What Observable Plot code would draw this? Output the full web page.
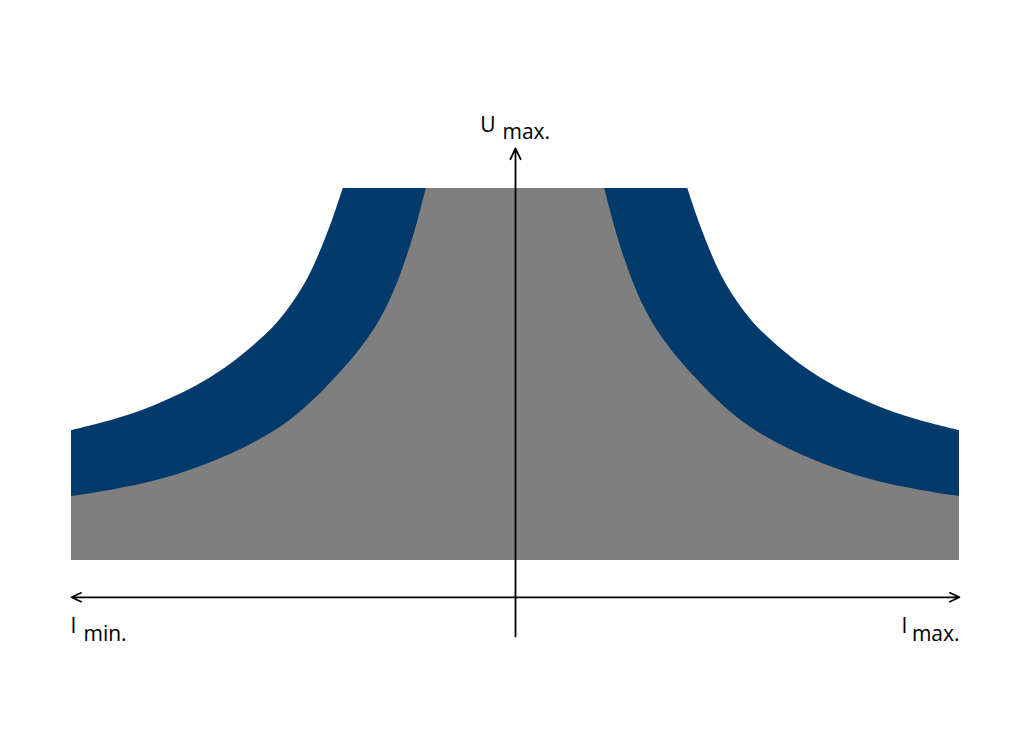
<!DOCTYPE html>
<html>
<head>
<meta charset="utf-8">
<script src="https://cdn.jsdelivr.net/npm/d3@7"></script>
<script src="https://cdn.jsdelivr.net/npm/@observablehq/plot@0.6"></script>
<style>
  html, body { margin: 0; padding: 0; background: #ffffff; }
  #chart svg { display: block; }
</style>
</head>
<body>
<div id="chart"></div>
<script>
// Current axis: -100 (I min.) … 100 (I max.); voltage axis: 0 … 100 (U max.)
// Left half, read from the corner at U max. outward; the right half is its mirror image.
const outerX = [-38.8, -40.9, -43.2, -46.2, -49.9, -53.8, -57.4, -60.4, -64.9, -72.5, -80.0, -87.5, -95.0, -100];
const outerU = [100, 92.3, 85.1, 76.6, 69.4, 63.4, 59.4, 56.2, 51.9, 46.2, 42.2, 38.7, 36.3, 34.9];
const innerX = [-20.1, -22.1, -24.4, -27.4, -31.2, -35.7, -39.4, -45.4, -51.4, -58.9, -68.7, -80.0, -91.2, -100];
const innerU = [100, 90.5, 81.5, 71.7, 62.7, 55.6, 50.5, 43.0, 36.7, 31.4, 26.0, 21.5, 18.8, 17.2];
const labelMain = ["U", "I", "I"];
const labelSub = ["max.", "min.", "max."];

const blue = "#023a6b";
const gray = "#7f7f7f";

// full symmetric outline, ordered by increasing current
const outline = (xs, us) => [
  ...xs.map((x, i) => ({x, u: us[i]})).reverse(),
  ...xs.map((x, i) => ({x: -x, u: us[i]}))
];
const bandShape = outline(outerX, outerU);
const safeShape = outline(innerX, innerU);

// Smooth B-spline curve that keeps horizontal segments straight (sharp corners at U max.)
function cornerCurve(context) {
  let pts = [];
  let inArea = false;
  const proxy = {
    started: false,
    moveTo(x, y) { if (this.started) context.lineTo(x, y); else { context.moveTo(x, y); this.started = true; } },
    lineTo(x, y) { context.lineTo(x, y); },
    bezierCurveTo(a, b, c, d, e, f) { context.bezierCurveTo(a, b, c, d, e, f); },
    closePath() {}
  };
  return {
    areaStart() { inArea = true; proxy.started = false; },
    areaEnd() { inArea = false; context.closePath(); },
    lineStart() { pts = []; if (!inArea) proxy.started = false; },
    point(x, y) { pts.push([+x, +y]); },
    lineEnd() {
      if (!pts.length) return;
      let run = [pts[0]];
      const flush = () => {
        const c = d3.curveBasis(proxy);
        c.lineStart();
        for (const p of run) c.point(p[0], p[1]);
        c.lineEnd();
      };
      for (let i = 1; i < pts.length; i++) {
        if (Math.abs(pts[i][1] - pts[i - 1][1]) < 1e-6) { flush(); run = [pts[i]]; }
        else run.push(pts[i]);
      }
      flush();
    }
  };
}

const font = "'Open Sans', 'DejaVu Sans', sans-serif";
const txt = {lineAnchor: "bottom", fontSize: 21, fill: "#000", stroke: "#000", strokeWidth: 0.05};

const labels = [
  {x: 0, u: 115.1, main: labelMain[0], sub: labelSub[0]},
  {x: -100, u: -19.6, main: labelMain[1], sub: labelSub[1]},
  {x: 100, u: -19.6, main: labelMain[2], sub: labelSub[2]}
];

const chart = Plot.plot({
  width: 1024,
  height: 750,
  marginLeft: 71,
  marginRight: 65,
  marginTop: 188,
  marginBottom: 190,
  x: {domain: [-100, 100], axis: null},
  y: {domain: [0, 100], axis: null},
  style: {background: "#ffffff", fontFamily: font},
  marks: [
    Plot.areaY(bandShape, {x: "x", y: "u", curve: cornerCurve, fill: blue}),
    Plot.areaY(safeShape, {x: "x", y: "u", curve: cornerCurve, fill: gray}),
    // axes
    Plot.arrow([{x1: 0, y1: -20.4, x2: 0, y2: 110.8}], {x1: "x1", y1: "y1", x2: "x2", y2: "y2", stroke: "#000", strokeWidth: 1.8, headLength: 10, headAngle: 50}),
    Plot.arrow([{x1: 0, y1: -9.9, x2: -100, y2: -9.9}, {x1: 0, y1: -9.9, x2: 100, y2: -9.9}], {x1: "x1", y1: "y1", x2: "x2", y2: "y2", stroke: "#000", strokeWidth: 1.6, headLength: 10, headAngle: 50}),
    // labels
    Plot.text(labels.slice(0, 1), {x: "x", y: "u", text: "main", textAnchor: "end", dx: -20, ...txt}),
    Plot.text(labels.slice(0, 1), {x: "x", y: "u", text: "sub", textAnchor: "start", dx: -13, dy: 7, ...txt}),
    Plot.text(labels.slice(1, 2), {x: "x", y: "u", text: "main", textAnchor: "start", dx: -1, ...txt}),
    Plot.text(labels.slice(1, 2), {x: "x", y: "u", text: "sub", textAnchor: "start", dx: 12, dy: 8, ...txt}),
    Plot.text(labels.slice(2, 3), {x: "x", y: "u", text: "main", textAnchor: "start", dx: -58, ...txt}),
    Plot.text(labels.slice(2, 3), {x: "x", y: "u", text: "sub", textAnchor: "end", dx: 0, dy: 8, ...txt})
  ]
});
document.getElementById("chart").append(chart);
</script>
</body>
</html>
